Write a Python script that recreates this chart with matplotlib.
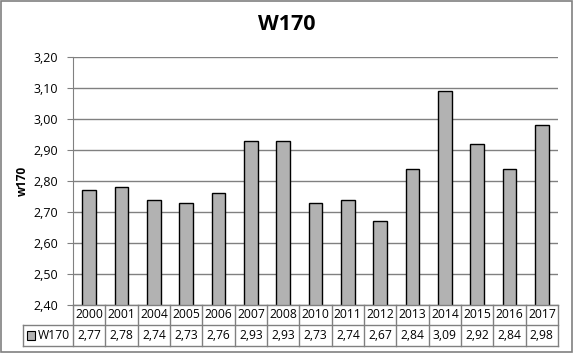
import matplotlib
matplotlib.use("Agg")
import matplotlib.pyplot as plt
from matplotlib.patches import Rectangle
from matplotlib.lines import Line2D

years = ["2000", "2001", "2004", "2005", "2006", "2007", "2008", "2010",
         "2011", "2012", "2013", "2014", "2015", "2016", "2017"]
values = [2.77, 2.78, 2.74, 2.73, 2.76, 2.93, 2.93, 2.73, 2.74, 2.67,
          2.84, 3.09, 2.92, 2.84, 2.98]
series_name = "W170"
y_ticks = [2.40, 2.50, 2.60, 2.70, 2.80, 2.90, 3.00, 3.10, 3.20]

W, H = 574, 354
fig = plt.figure(figsize=(W / 100, H / 100), dpi=100)
plt.rcParams['font.family'] = ['Open Sans', 'DejaVu Sans']

def fx(px):
    return px / W

def fy(py):
    return 1 - py / H

# outer border
fig.patches.append(Rectangle((fx(1), fy(352)), fx(571), 351 / H, transform=fig.transFigure,
                             fill=False, edgecolor="#808080", linewidth=1.2))

L, R, T, B = 73, 558, 57, 305
ax = fig.add_axes([fx(L), fy(B), fx(R - L), (B - T) / H])
n = len(years)
x = list(range(n))
ax.bar(x, values, width=0.42, color="#B2B2B2", edgecolor="black", linewidth=1.0, zorder=3)
ax.set_xlim(-0.5, n - 0.5)
ax.set_ylim(2.40, 3.20)
ax.set_yticks(y_ticks)
ax.set_yticklabels([f"{v:.2f}".replace(".", ",") for v in y_ticks], fontsize=9)
ax.yaxis.grid(True, color="#808080", linewidth=1.0, zorder=0)
ax.set_xticks([])
for s in ["top", "right", "bottom"]:
    ax.spines[s].set_visible(False)
ax.spines["left"].set_color("#808080")
ax.tick_params(axis="y", length=4, color="#808080", pad=7)
ax.set_ylabel("w170", fontsize=8.5, fontweight="bold")
ax.yaxis.set_label_coords((29 - L) / (R - L), 0.5)

fig.text(0.5, fy(24), "W170", ha="center", va="center", fontsize=15.5, fontweight="bold")

# data table
r1t, r1b, r2b = 305, 325, 346
col_w = (R - L) / n
line_kw = dict(color="#808080", linewidth=1.0, transform=fig.transFigure)
fig.lines.append(Line2D([fx(L), fx(R)], [fy(r1t), fy(r1t)], **line_kw))
fig.lines.append(Line2D([fx(23), fx(R)], [fy(r1b), fy(r1b)], **line_kw))
fig.lines.append(Line2D([fx(23), fx(R)], [fy(r2b), fy(r2b)], **line_kw))
fig.lines.append(Line2D([fx(23), fx(23)], [fy(r1b), fy(r2b)], **line_kw))
for i in range(n + 1):
    xp = L + i * col_w
    fig.lines.append(Line2D([fx(xp), fx(xp)], [fy(r1t), fy(r2b)], **line_kw))
for i in range(n):
    xc = L + (i + 0.5) * col_w
    fig.text(fx(xc), fy((r1t + r1b) / 2), years[i], ha="center", va="center", fontsize=8.7)
    fig.text(fx(xc), fy((r1b + r2b) / 2), f"{values[i]:.2f}".replace(".", ","),
             ha="center", va="center", fontsize=8.7)
# legend key
fig.patches.append(Rectangle((fx(27), fy(340)), fx(8), 9 / H, transform=fig.transFigure,
                             facecolor="#B2B2B2", edgecolor="black", linewidth=0.8))
fig.text(fx(38), fy((r1b + r2b) / 2), series_name, ha="left", va="center", fontsize=8.7)

fig.savefig("out.png", dpi=100)
